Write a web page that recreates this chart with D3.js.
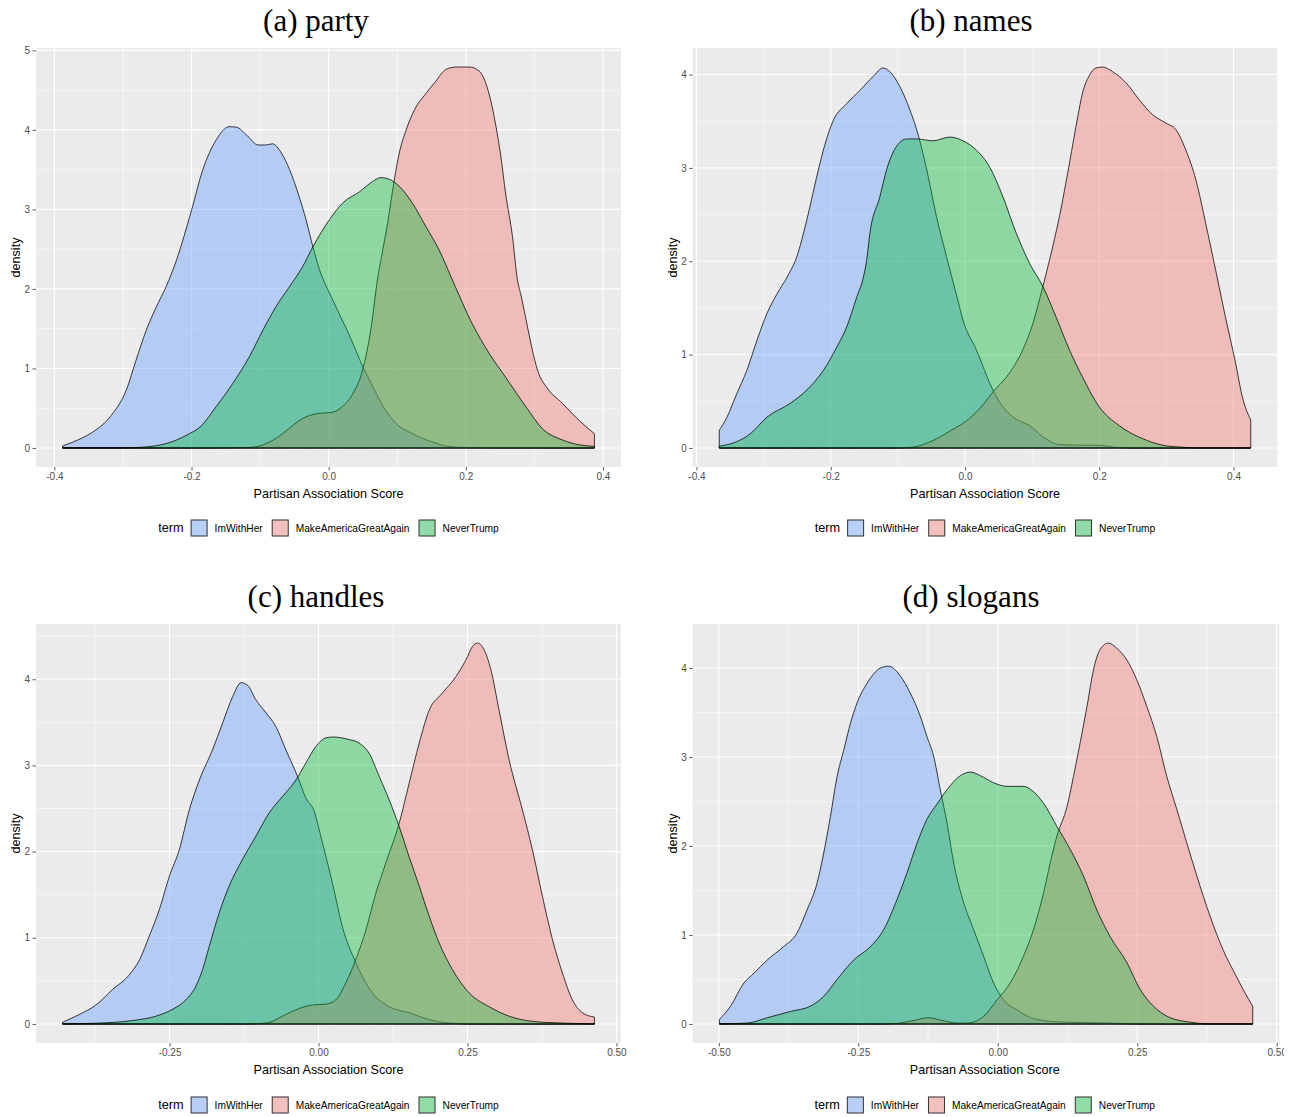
<!DOCTYPE html>
<html>
<head>
<meta charset="utf-8">
<script src="https://cdn.jsdelivr.net/npm/d3@7"></script>
<style>
  body { margin: 0; background: #fff; }
  text { font-family: "Liberation Sans", Arial, sans-serif; }
  text.panel-title { font-family: "Liberation Serif", "Times New Roman", serif; }
</style>
</head>
<body>
<div id="chart"></div>
<script>
{
    // legend terms in draw order, with the default ggplot hues
    const terms = ["ImWithHer", "MakeAmericaGreatAgain", "NeverTrump"];
    const termColors = ["#619CFF", "#F8766D", "#00BA38"];

    // density curves, [score, density]
    const partyImWithHer = [[-0.388,0.025],[-0.366,0.1],[-0.344,0.2],[-0.317,0.41],[-0.295,0.73],[-0.281,1.1],[-0.266,1.48],[-0.251,1.78],[-0.237,2.03],[-0.222,2.36],[-0.2,2.99],[-0.1835,3.5],[-0.164,3.875],[-0.145,4.04],[-0.135,4.035],[-0.118,3.92],[-0.103,3.81],[-0.091,3.81],[-0.082,3.825],[-0.069,3.71],[-0.057,3.5],[-0.043,3.16],[-0.033,2.87],[-0.023,2.53],[-0.014,2.26],[0.006,1.86],[0.03,1.42],[0.05,1.02],[0.065,0.76],[0.081,0.5],[0.098,0.31],[0.122,0.18],[0.151,0.076],[0.18,0.013],[0.22,0.003],[0.3875,0]];
    const partyMAGA = [[-0.388,0],[-0.2,0],[-0.12,0.005],[-0.101,0.025],[-0.085,0.08],[-0.067,0.18],[-0.05,0.3],[-0.038,0.37],[-0.018,0.43],[0.006,0.45],[0.02,0.52],[0.035,0.68],[0.0495,0.98],[0.062,1.52],[0.071,2.11],[0.078,2.45],[0.086,2.83],[0.0957,3.37],[0.103,3.71],[0.113,4.0],[0.125,4.25],[0.142,4.46],[0.156,4.61],[0.171,4.76],[0.186,4.79],[0.205,4.79],[0.2195,4.74],[0.229,4.59],[0.2366,4.36],[0.244,4.04],[0.251,3.67],[0.258,3.2],[0.268,2.66],[0.275,2.13],[0.281,1.9],[0.29,1.52],[0.297,1.23],[0.3045,0.98],[0.319,0.75],[0.341,0.56],[0.36,0.39],[0.375,0.27],[0.3875,0.18]];
    const partyNeverTrump = [[-0.388,0],[-0.3,0],[-0.271,0.01],[-0.237,0.055],[-0.222,0.1],[-0.203,0.18],[-0.188,0.26],[-0.164,0.52],[-0.14,0.81],[-0.1155,1.15],[-0.096,1.48],[-0.0766,1.78],[-0.057,2.03],[-0.038,2.28],[-0.023,2.53],[0.001,2.87],[0.0204,3.08],[0.0447,3.22],[0.064,3.35],[0.076,3.4],[0.088,3.38],[0.103,3.29],[0.122,3.08],[0.142,2.78],[0.161,2.49],[0.181,2.1],[0.21,1.55],[0.234,1.19],[0.258,0.89],[0.2875,0.52],[0.312,0.24],[0.341,0.1],[0.365,0.04],[0.3875,0.02]];

    const namesImWithHer = [[-0.366,0.19],[-0.3545,0.33],[-0.34,0.58],[-0.325,0.83],[-0.31,1.15],[-0.295,1.44],[-0.28,1.65],[-0.265,1.83],[-0.2505,2.05],[-0.2357,2.44],[-0.221,2.9],[-0.211,3.19],[-0.196,3.51],[-0.176,3.69],[-0.1565,3.83],[-0.1367,3.98],[-0.122,4.07],[-0.112,4.03],[-0.097,3.87],[-0.082,3.62],[-0.072,3.41],[-0.057,2.98],[-0.0425,2.48],[-0.0276,2.05],[-0.012,1.62],[-0.003,1.37],[0.017,1.05],[0.0416,0.62],[0.0565,0.44],[0.076,0.31],[0.096,0.24],[0.116,0.12],[0.1407,0.036],[0.175,0.03],[0.2,0.03],[0.22,0.01],[0.25,0],[0.4256,0]];
    const namesMAGA = [[-0.366,0],[-0.1,0],[-0.077,0.01],[-0.0475,0.08],[-0.0227,0.18],[0.002,0.29],[0.0218,0.42],[0.0416,0.6],[0.066,0.8],[0.086,1.05],[0.101,1.33],[0.116,1.73],[0.1258,2.01],[0.1407,2.48],[0.1556,3.05],[0.168,3.55],[0.175,3.8],[0.1853,3.99],[0.195,4.07],[0.205,4.08],[0.22,4.03],[0.24,3.91],[0.2595,3.73],[0.2794,3.57],[0.2992,3.48],[0.314,3.41],[0.329,3.19],[0.344,2.87],[0.3587,2.4],[0.3735,1.9],[0.388,1.4],[0.4033,0.9],[0.413,0.55],[0.4256,0.3]];
    const namesNeverTrump = [[-0.366,0.02],[-0.345,0.054],[-0.32,0.15],[-0.295,0.33],[-0.26,0.48],[-0.2357,0.62],[-0.211,0.83],[-0.191,1.08],[-0.176,1.3],[-0.161,1.62],[-0.1516,1.82],[-0.1465,2.01],[-0.1416,2.3],[-0.1268,2.69],[-0.1168,2.98],[-0.102,3.23],[-0.087,3.31],[-0.072,3.31],[-0.0475,3.29],[-0.0227,3.33],[-0.003,3.29],[0.017,3.19],[0.0367,3.01],[0.0565,2.69],[0.0764,2.3],[0.096,1.98],[0.116,1.73],[0.1358,1.4],[0.1556,1.05],[0.175,0.76],[0.2,0.44],[0.2296,0.24],[0.2645,0.1],[0.294,0.03],[0.32,0.01],[0.35,0],[0.4256,0]];

    const handlesImWithHer = [[-0.4295,0.02],[-0.4015,0.11],[-0.3735,0.22],[-0.3456,0.4],[-0.3176,0.57],[-0.3,0.75],[-0.284,1.02],[-0.267,1.33],[-0.2505,1.71],[-0.2337,2.02],[-0.217,2.48],[-0.2,2.83],[-0.178,3.18],[-0.161,3.49],[-0.144,3.8],[-0.13,3.96],[-0.119,3.93],[-0.105,3.76],[-0.088,3.61],[-0.0715,3.45],[-0.0547,3.18],[-0.035,2.87],[-0.0211,2.62],[-0.008,2.48],[0.0067,2.1],[0.0235,1.63],[0.04,1.13],[0.0627,0.71],[0.0906,0.36],[0.1186,0.2],[0.152,0.13],[0.1857,0.05],[0.22,0.01],[0.26,0],[0.463,0]];
    const handlesMAGA = [[-0.4295,0],[-0.12,0],[-0.088,0.01],[-0.0547,0.11],[-0.0324,0.18],[-0.01,0.22],[0.0124,0.23],[0.029,0.28],[0.046,0.48],[0.0627,0.75],[0.0795,1.09],[0.0963,1.52],[0.113,1.87],[0.1354,2.33],[0.152,2.79],[0.169,3.26],[0.1857,3.64],[0.208,3.84],[0.2305,4.03],[0.247,4.22],[0.2584,4.38],[0.2668,4.42],[0.278,4.34],[0.2893,4.11],[0.303,3.64],[0.32,3.06],[0.3423,2.48],[0.359,2.02],[0.3758,1.48],[0.3926,0.98],[0.4094,0.59],[0.426,0.28],[0.443,0.13],[0.463,0.08]];
    const handlesNeverTrump = [[-0.4295,0],[-0.368,0.01],[-0.312,0.04],[-0.273,0.09],[-0.245,0.17],[-0.2225,0.28],[-0.2057,0.44],[-0.1946,0.63],[-0.1834,0.9],[-0.1666,1.29],[-0.15,1.6],[-0.1275,1.91],[-0.105,2.18],[-0.0827,2.45],[-0.0604,2.64],[-0.038,2.83],[-0.0211,3.03],[-0.0044,3.22],[0.0124,3.32],[0.0235,3.33],[0.0515,3.3],[0.068,3.26],[0.085,3.14],[0.102,2.87],[0.1186,2.6],[0.1354,2.29],[0.152,1.94],[0.169,1.6],[0.1857,1.25],[0.2025,0.94],[0.2248,0.63],[0.2528,0.36],[0.2864,0.2],[0.32,0.09],[0.359,0.03],[0.41,0.01],[0.463,0]];

    const slogansImWithHer = [[-0.499,0.05],[-0.479,0.2],[-0.455,0.46],[-0.437,0.57],[-0.413,0.72],[-0.3836,0.87],[-0.36,1.02],[-0.342,1.28],[-0.324,1.58],[-0.312,1.92],[-0.3,2.33],[-0.288,2.78],[-0.276,3.08],[-0.264,3.38],[-0.252,3.61],[-0.234,3.83],[-0.21,4.0],[-0.1956,4.02],[-0.1746,3.91],[-0.157,3.72],[-0.139,3.46],[-0.127,3.23],[-0.115,3.01],[-0.103,2.63],[-0.091,2.26],[-0.079,1.81],[-0.061,1.36],[-0.0433,1.06],[-0.0254,0.76],[-0.0075,0.46],[0.0104,0.27],[0.034,0.16],[0.07,0.05],[0.12,0.02],[0.2,0.01],[0.25,0],[0.457,0]];
    const slogansMAGA = [[-0.499,0],[-0.2,0],[-0.175,0.01],[-0.15,0.04],[-0.124,0.07],[-0.1,0.04],[-0.073,0.01],[-0.055,0.01],[-0.0254,0.085],[-0.0014,0.27],[0.0224,0.46],[0.046,0.76],[0.064,1.06],[0.082,1.47],[0.094,1.81],[0.106,2.11],[0.124,2.44],[0.1357,2.78],[0.1477,3.16],[0.16,3.57],[0.1716,3.98],[0.1836,4.21],[0.1985,4.28],[0.2135,4.22],[0.2314,4.09],[0.249,3.87],[0.267,3.57],[0.285,3.23],[0.303,2.78],[0.321,2.41],[0.339,2.03],[0.357,1.66],[0.3806,1.21],[0.404,0.83],[0.428,0.53],[0.443,0.35],[0.457,0.2]];
    const slogansNeverTrump = [[-0.499,0],[-0.449,0.01],[-0.413,0.07],[-0.372,0.14],[-0.336,0.2],[-0.312,0.31],[-0.288,0.5],[-0.258,0.72],[-0.228,0.87],[-0.2045,1.06],[-0.1805,1.4],[-0.1626,1.7],[-0.1447,2.03],[-0.127,2.3],[-0.109,2.47],[-0.085,2.68],[-0.067,2.79],[-0.049,2.83],[-0.031,2.79],[-0.0075,2.71],[0.0165,2.67],[0.046,2.67],[0.064,2.61],[0.082,2.48],[0.106,2.22],[0.13,1.96],[0.1537,1.66],[0.1776,1.28],[0.2015,0.98],[0.2314,0.69],[0.255,0.39],[0.279,0.2],[0.309,0.07],[0.345,0.02],[0.38,0],[0.457,0]];

    // axis ticks and their labels
    const xTicksTenths = [-0.4, -0.2, 0, 0.2, 0.4];
    const xLabelsTenths = ["-0.4", "-0.2", "0.0", "0.2", "0.4"];
    const xTicksQuarters = [-0.5, -0.25, 0, 0.25, 0.5];
    const xLabelsQuarters = ["-0.50", "-0.25", "0.00", "0.25", "0.50"];
    const yTicksFive = [0, 1, 2, 3, 4, 5];
    const yTicksFour = [0, 1, 2, 3, 4];

    const xTitle = "Partisan Association Score";
    const yTitle = "density";

    // canvas setup
    const width = 1298, height = 1117;
    const svg = d3.select("#chart")
        .append("svg")
        .attr("width", width)
        .attr("height", height);

    svg.append("rect").attr("width", width).attr("height", height).attr("fill", "#fff");

    const panels = [
        { title: "(a) party", series: [partyImWithHer, partyMAGA, partyNeverTrump],
          xTicks: xTicksTenths, xLabels: xLabelsTenths, yTicks: yTicksFive,
          left: 36, right: 621, top: 48, bottom: 467, titleX: 316, titleY: 31, legendY: 528 },
        { title: "(b) names", series: [namesImWithHer, namesMAGA, namesNeverTrump],
          xTicks: xTicksTenths, xLabels: xLabelsTenths, yTicks: yTicksFour,
          left: 692.7, right: 1277.3, top: 48, bottom: 467, titleX: 971, titleY: 31, legendY: 528 },
        { title: "(c) handles", series: [handlesImWithHer, handlesMAGA, handlesNeverTrump],
          xTicks: xTicksQuarters, xLabels: xLabelsQuarters, yTicks: yTicksFour,
          left: 36, right: 621, top: 624, bottom: 1043, titleX: 316, titleY: 607, legendY: 1105 },
        { title: "(d) slogans", series: [slogansImWithHer, slogansMAGA, slogansNeverTrump],
          xTicks: xTicksQuarters, xLabels: xLabelsQuarters, yTicks: yTicksFour,
          left: 692.7, right: 1279.4, top: 624, bottom: 1043, titleX: 971, titleY: 607, legendY: 1105,
          cropRight: 1284 }
    ];

    // minor breaks halfway between the major ones, kept inside the domain
    function minorBreaks(ticks, domain) {
        const step = ticks[1] - ticks[0];
        const out = ticks.map(t => t - step / 2).concat([ticks[ticks.length - 1] + step / 2]);
        return out.filter(v => v > domain[0] && v < domain[1]);
    }

    function styleAxis(g) {
        g.select(".domain").remove();
        g.selectAll(".tick line").attr("stroke", "#333333").attr("stroke-width", 0.8);
        g.selectAll(".tick text")
            .attr("fill", "#4D4D4D")
            .attr("font-size", "10px")
            .attr("font-family", null);
    }

    panels.forEach((p, pi) => {
        const g = svg.append("g");
        if (p.cropRight) {
            const clipId = `crop-${pi}`;
            svg.append("clipPath").attr("id", clipId)
                .append("rect").attr("x", 0).attr("y", 0).attr("width", p.cropRight).attr("height", height);
            g.attr("clip-path", `url(#${clipId})`);
        }

        const all = p.series.flat();
        const xExt = d3.extent(all, d => d[0]);
        const xPad = (xExt[1] - xExt[0]) * 0.05;
        const x = d3.scaleLinear()
            .domain([xExt[0] - xPad, xExt[1] + xPad])
            .range([p.left, p.right]);
        const yMax = d3.max(all, d => d[1]);
        const y = d3.scaleLinear()
            .domain([-0.05 * yMax, 1.05 * yMax])
            .range([p.bottom, p.top]);

        // panel background and grid
        g.append("rect")
            .attr("x", p.left).attr("y", p.top)
            .attr("width", p.right - p.left).attr("height", p.bottom - p.top)
            .attr("fill", "#EBEBEB");

        const grid = g.append("g");
        grid.selectAll(".xminor")
            .data(minorBreaks(p.xTicks, x.domain()))
            .join("line")
            .attr("x1", d => x(d)).attr("x2", d => x(d))
            .attr("y1", p.top).attr("y2", p.bottom)
            .attr("stroke", "#fff").attr("stroke-width", 0.55);
        grid.selectAll(".yminor")
            .data(minorBreaks(p.yTicks, y.domain()))
            .join("line")
            .attr("y1", d => y(d)).attr("y2", d => y(d))
            .attr("x1", p.left).attr("x2", p.right)
            .attr("stroke", "#fff").attr("stroke-width", 0.55);
        grid.selectAll(".xmajor")
            .data(p.xTicks.filter(v => v > x.domain()[0] && v < x.domain()[1]))
            .join("line")
            .attr("x1", d => x(d)).attr("x2", d => x(d))
            .attr("y1", p.top).attr("y2", p.bottom)
            .attr("stroke", "#fff").attr("stroke-width", 1.1);
        grid.selectAll(".ymajor")
            .data(p.yTicks)
            .join("line")
            .attr("y1", d => y(d)).attr("y2", d => y(d))
            .attr("x1", p.left).attr("x2", p.right)
            .attr("stroke", "#fff").attr("stroke-width", 1.1);

        // densities, full outline like geom_density
        const area = d3.area()
            .x(d => x(d[0]))
            .y0(y(0))
            .y1(d => y(d[1]))
            .curve(d3.curveMonotoneX);

        g.append("g")
            .selectAll("path")
            .data(p.series)
            .join("path")
            .attr("d", d => area(d))
            .attr("fill", (_, i) => termColors[i])
            .attr("fill-opacity", 0.4)
            .attr("stroke", "#000")
            .attr("stroke-width", 0.75)
            .attr("stroke-linejoin", "round");

        // axes
        const xTicksIn = p.xTicks.filter(v => v > x.domain()[0] && v < x.domain()[1]);
        g.append("g")
            .attr("transform", `translate(0,${p.bottom})`)
            .call(d3.axisBottom(x)
                .tickValues(xTicksIn)
                .tickFormat(d => p.xLabels[p.xTicks.indexOf(d)])
                .tickSize(3.5)
                .tickPadding(2.5))
            .call(styleAxis);

        g.append("g")
            .attr("transform", `translate(${p.left},0)`)
            .call(d3.axisLeft(y)
                .tickValues(p.yTicks)
                .tickFormat(d3.format("d"))
                .tickSize(3.5)
                .tickPadding(2.5))
            .call(styleAxis);

        // axis titles
        g.append("text")
            .attr("x", (p.left + p.right) / 2 - (p.cropRight ? 1.3 : 0))
            .attr("y", p.bottom + 30.5)
            .attr("text-anchor", "middle")
            .attr("font-size", "12.6px")
            .attr("fill", "#000")
            .text(xTitle);

        g.append("text")
            .attr("transform", `translate(${p.left - 16},${(p.top + p.bottom) / 2}) rotate(-90)`)
            .attr("text-anchor", "middle")
            .attr("font-size", "12.6px")
            .attr("fill", "#000")
            .text(yTitle);

        // panel title
        svg.append("text")
            .attr("class", "panel-title")
            .attr("x", p.titleX)
            .attr("y", p.titleY)
            .attr("text-anchor", "middle")
            .attr("font-size", "31px")
            .attr("fill", "#000")
            .text(p.title);

        // legend, centred under the panel
        const leg = svg.append("g");
        const cy = p.legendY;
        let cx = 0;
        const head = leg.append("text")
            .attr("x", cx).attr("y", cy + 4.4)
            .attr("font-size", "12.7px")
            .attr("fill", "#000")
            .text("term");
        cx += head.node().getComputedTextLength() + 7;
        terms.forEach((t, i) => {
            leg.append("rect")
                .attr("x", cx).attr("y", cy - 8.5)
                .attr("width", 17).attr("height", 17)
                .attr("fill", "#F2F2F2");
            leg.append("rect")
                .attr("x", cx + 0.5).attr("y", cy - 8)
                .attr("width", 16).attr("height", 16)
                .attr("fill", termColors[i])
                .attr("fill-opacity", 0.4)
                .attr("stroke", "#333")
                .attr("stroke-width", 1);
            cx += 17 + 7;
            const lab = leg.append("text")
                .attr("x", cx).attr("y", cy + 3.6)
                .attr("font-size", "10.2px")
                .attr("fill", "#000")
                .text(t);
            cx += lab.node().getComputedTextLength() + 9;
        });
        const legWidth = cx - 9;
        leg.attr("transform", `translate(${(p.left + p.right) / 2 - legWidth / 2 - (p.cropRight ? 1.3 : 0)},0)`);
    });
}
</script>
</body>
</html>
